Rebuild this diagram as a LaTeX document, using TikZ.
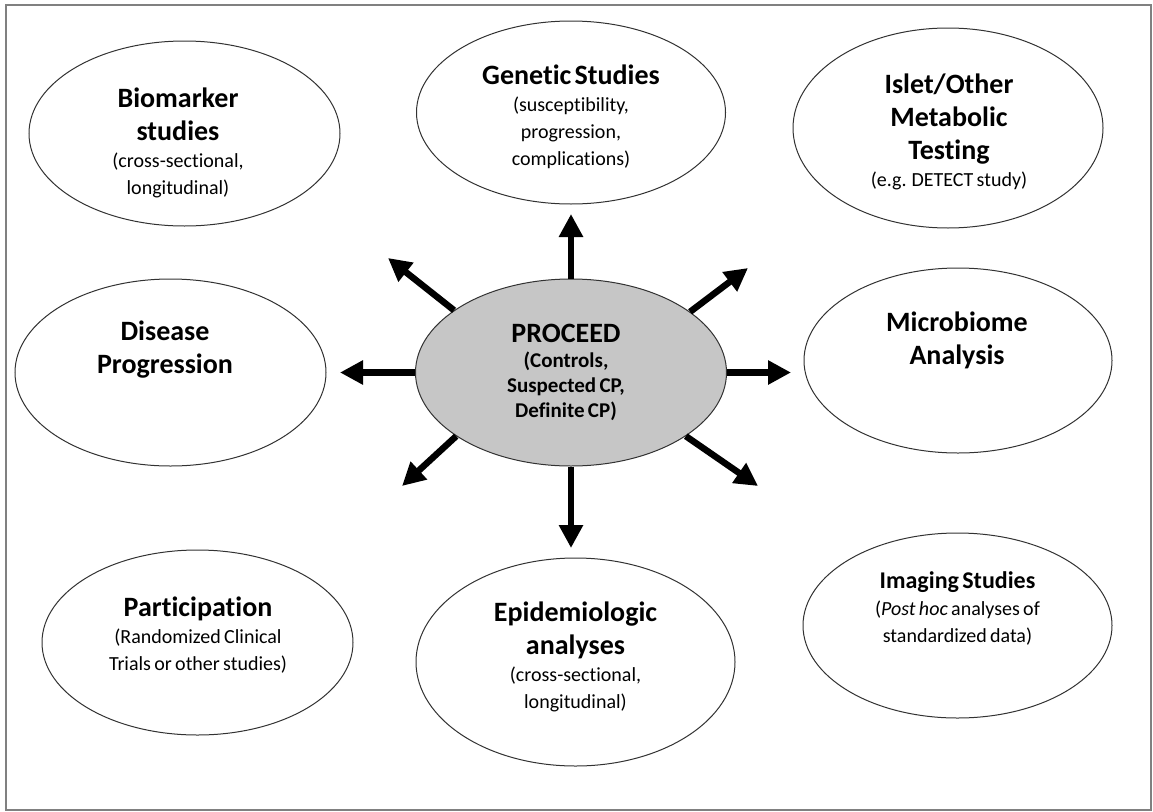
\documentclass[tikz,border=0pt]{standalone}
\usepackage{fontspec}
\setmainfont[Ligatures=NoCommon]{Carlito}
\usetikzlibrary{shapes.geometric,arrows.meta}
\definecolor{procfill}{RGB}{198,198,198}
\definecolor{framegray}{RGB}{128,128,128}
\definecolor{edgegray}{RGB}{50,50,50}
\newcommand\mytitle[1]{{\fontsize{28}{33}\selectfont\bfseries #1\par}}
\newcommand\mysub[1]{{\fontsize{20}{27}\selectfont #1\par}}
\newcommand\myproc[1]{{\fontsize{21}{25}\selectfont\bfseries #1\par}}
\begin{document}
\begin{tikzpicture}[x=1pt,y=-1pt,
  bubble/.style={ellipse, draw=edgegray, line width=1pt, inner sep=0pt, fill=white},
  txt/.style={text width=330pt, align=center, inner sep=0pt},
  arr/.style={line width=6.5pt, -{Triangle[width=23pt,length=23pt]}}]
\useasboundingbox (0,0) rectangle (1153,811);
\draw[framegray, line width=2pt] (6,5) rectangle (1151,810);

% ellipses
\node[bubble, minimum width=311pt, minimum height=185pt] (bio) at (184.5,133.5) {};
\node[bubble, minimum width=309pt, minimum height=183pt] (gen) at (571,112.5) {};
\node[bubble, minimum width=310pt, minimum height=200pt] (isl) at (948,128) {};
\node[bubble, minimum width=311pt, minimum height=187pt] (dis) at (170.5,372.5) {};
\node[bubble, minimum width=311pt, minimum height=187pt, fill=procfill] (proc) at (571,372.5) {};
\node[bubble, minimum width=308pt, minimum height=185pt] (mic) at (958,360.5) {};
\node[bubble, minimum width=311pt, minimum height=185pt] (par) at (197.5,642.5) {};
\node[bubble, minimum width=319pt, minimum height=208pt] (epi) at (575.5,662) {};
\node[bubble, minimum width=309pt, minimum height=185pt] (img) at (957.5,625.5) {};

% texts
\node[txt] (bio-t) at (178,143) {\mytitle{Biomarker\\studies}\mysub{(cross-sectional,\\longitudinal)}};
\node[txt] (gen-t) at (571,117) {\mytitle{Genetic Studies}\mysub{(susceptibility,\\progression,\\complications)}};
\node[txt] (isl-t) at (949,132) {\mytitle{Islet/Other\\Metabolic\\Testing}\mysub{(e.g. DETECT study)}};
\node[txt] (dis-t) at (165,350) {\mytitle{Disease\\Progression}};
\node[txt] (proc-t) at (566,372.5) {{\fontsize{28}{33}\selectfont\bfseries PROCEED\par}\myproc{(Controls,\\Suspected CP,\\Definite CP)}};
\node[txt] (mic-t) at (957,340) {\mytitle{Microbiome\\Analysis}};
\node[txt] (par-t) at (198,635) {\mytitle{Participation}\mysub{(Randomized Clinical\\Trials or other studies)}};
\node[txt] (epi-t) at (575.5,657) {\mytitle{Epidemiologic\\analyses}\mysub{(cross-sectional,\\longitudinal)}};
\node[txt] (img-t) at (957.5,608) {{\fontsize{24}{29}\selectfont\bfseries Imaging Studies\par}\mysub{(\textit{Post hoc} analyses of\\standardized data)}};

% arrow tips
\coordinate (tU) at (571,214);
\coordinate (tUL) at (388,258);
\coordinate (tL) at (340,372.5);
\coordinate (tUR) at (748,268);
\coordinate (tR) at (791,372.5);
\coordinate (tDL) at (402,486);
\coordinate (tD) at (571,548);
\coordinate (tDR) at (758,486);

\draw[arr] (proc.north) -- (tU);
\draw[arr] (proc.152) -- (tUL);
\draw[arr] (proc.west) -- (tL);
\draw[arr] (proc.27) -- (tUR);
\draw[arr] (proc.east) -- (tR);
\draw[arr] (proc.209) -- (tDL);
\draw[arr] (proc.south) -- (tD);
\draw[arr] (proc.331) -- (tDR);
\end{tikzpicture}
\end{document}
